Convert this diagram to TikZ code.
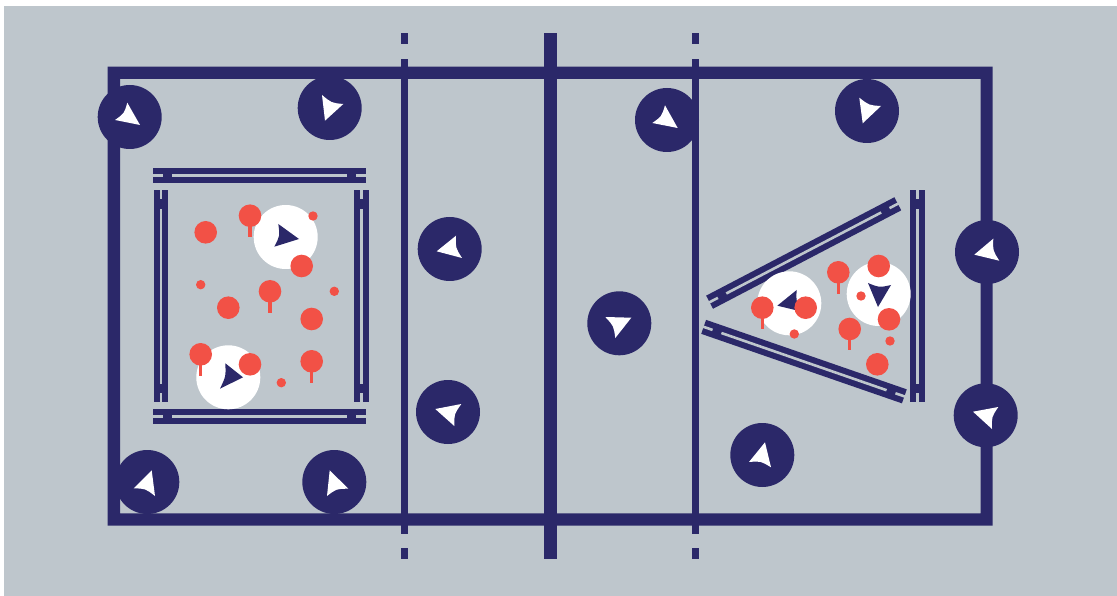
\documentclass[tikz,border=0pt]{standalone}
\usetikzlibrary{calc}
\definecolor{navy}{HTML}{2B2869}
\definecolor{court}{HTML}{BEC6CC}
\definecolor{dot}{HTML}{F25146}
\tikzset{
  player/.style={circle,fill=navy,draw=none,minimum size=64pt,inner sep=0pt},
  zone/.style={circle,fill=white,draw=none,minimum size=64pt,inner sep=0pt},
  bigdot/.style={circle,fill=dot,draw=none,minimum size=22.6pt,inner sep=0pt},
  smalldot/.style={circle,fill=dot,draw=none,minimum size=9.4pt,inner sep=0pt},
  stem/.style={draw=dot,line width=3.3pt,line cap=butt}
}
% kite: wing A, tip B, wing C; the notched side runs from C back to A
\newcommand{\kite}[4]{%
  \coordinate (kn) at ($ ($#2!.5!#4$) !.16! #3 $);
  \fill[#1] #2 -- #3 -- #4 .. controls (kn) and (kn) .. cycle;}
\newcommand{\barrier}[3]{%
  \begin{scope}[shift={(#1,#2)},rotate=#3]
    \fill[navy] (-106.2,-7.4) rectangle (106.2,7.4);
    \fill[court] (-107,-1.3) rectangle (-96.8,1.3);
    \fill[court] (-87.4,-1.3) rectangle (87.4,1.3);
    \fill[court] (96.8,-1.3) rectangle (107,1.3);
  \end{scope}}
\newcommand{\player}[5]{%
  \node[player] (#1) at (#2) {};
  \kite{white}{#3}{#4}{#5}}
\begin{document}
\begin{tikzpicture}[x=1pt,y=-1pt]
\useasboundingbox (0,0) rectangle (1117,596);
\fill[white] (0,0) rectangle (1117,596);
\fill[court] (4,6) rectangle (1117,596);
% court
\fill[navy,even odd rule] (107.7,66.7) rectangle (992.7,525.7) (120,79) rectangle (980.7,513.3);
\fill[navy] (543.7,33) rectangle (556.7,559.3);
\fill[navy] (401,58.7) rectangle (408,534);
\fill[navy] (401,33) rectangle (408,44);
\fill[navy] (401,548.3) rectangle (408,559.3);
\fill[navy] (691.7,58.7) rectangle (698.7,534);
\fill[navy] (691.7,33) rectangle (698.7,44);
\fill[navy] (691.7,548.3) rectangle (698.7,559.3);
% barriers
\barrier{259.5}{175.8}{0}
\barrier{259.5}{416.6}{0}
\barrier{160.9}{296.1}{90}
\barrier{361.2}{296.1}{90}
\barrier{917.7}{296.1}{90}
\barrier{803.7}{253}{27.6}
\barrier{804}{361.6}{-19.1}
% players: wing, tip, wing
\player{p1}{129.7,117}{(127.3,102.7)}{(140,125)}{(115,120)}
\player{p2}{329.7,108}{(322,95)}{(325,120.7)}{(343.3,104)}
\player{p3}{667,120}{(665,105.3)}{(677.7,128)}{(652.3,123)}
\player{p4}{867,111}{(859.3,97.7)}{(862.7,123.3)}{(881,106)}
\player{p5}{449.7,249}{(456,235.7)}{(436.7,251.3)}{(462,258)}
\player{p6}{448,412}{(461.3,404)}{(435.3,409)}{(454.3,426)}
\player{p7}{619.3,323.3}{(605.3,317)}{(631.3,317.7)}{(615.3,338)}
\player{p8}{987,252}{(993.3,238.7)}{(974.3,254.7)}{(999.3,260.7)}
\player{p9}{985.7,415.3}{(998.3,407)}{(973,411.7)}{(992,429)}
\player{p10}{762.3,455}{(749,462)}{(765,442.3)}{(771,467.3)}
\player{p11}{147.3,482}{(133.7,488.3)}{(151.7,470.3)}{(155,496)}
\player{p12}{334.3,482}{(348.3,488.7)}{(329.7,470.3)}{(327,496)}
% zones
\node[zone] (z1) at (285.7,237) {};
\node[zone] (z2) at (228.3,377.3) {};
\node[zone] (z3) at (789.3,303.3) {};
\node[zone] (z4) at (878.7,294) {};
\kite{navy}{(278.3,224)}{(299,239)}{(274.3,246.7)}
\kite{navy}{(225.3,363.3)}{(243,377.3)}{(220,388.7)}
\kite{navy}{(796.7,290)}{(777.3,305.7)}{(802.3,311.7)}
\kite{navy}{(868,283)}{(878,307)}{(891,285)}
% stems
\draw[stem] (250,215.7) -- (250,237.3);
\draw[stem] (270,291.3) -- (270,312.7);
\draw[stem] (200.7,354.3) -- (200.7,375.7);
\draw[stem] (311.7,361.3) -- (311.7,382.7);
\draw[stem] (762.3,307.7) -- (762.3,329);
\draw[stem] (838.3,272.3) -- (838.3,294);
\draw[stem] (849.7,329) -- (849.7,350.3);
% big dots
\node[bigdot] (b1) at (205.7,232.3) {};
\node[bigdot] (b2) at (250,215.7) {};
\node[bigdot] (b3) at (301.7,266) {};
\node[bigdot] (b4) at (270,291.3) {};
\node[bigdot] (b5) at (228.3,307.7) {};
\node[bigdot] (b6) at (311.7,319) {};
\node[bigdot] (b7) at (200.7,354.3) {};
\node[bigdot] (b8) at (250,364.3) {};
\node[bigdot] (b9) at (311.7,361.3) {};
\node[bigdot] (b10) at (762.3,307.7) {};
\node[bigdot] (b11) at (805.7,307.7) {};
\node[bigdot] (b12) at (838.3,272.3) {};
\node[bigdot] (b13) at (878.7,266) {};
\node[bigdot] (b14) at (889,319.3) {};
\node[bigdot] (b15) at (849.7,329) {};
\node[bigdot] (b16) at (877.3,364.3) {};
% small dots
\node[smalldot] (s1) at (313,216) {};
\node[smalldot] (s2) at (200.7,284.7) {};
\node[smalldot] (s3) at (334.3,291.3) {};
\node[smalldot] (s4) at (281.3,382.7) {};
\node[smalldot] (s5) at (794.3,334) {};
\node[smalldot] (s6) at (861,296) {};
\node[smalldot] (s7) at (890,341) {};
\end{tikzpicture}
\end{document}
